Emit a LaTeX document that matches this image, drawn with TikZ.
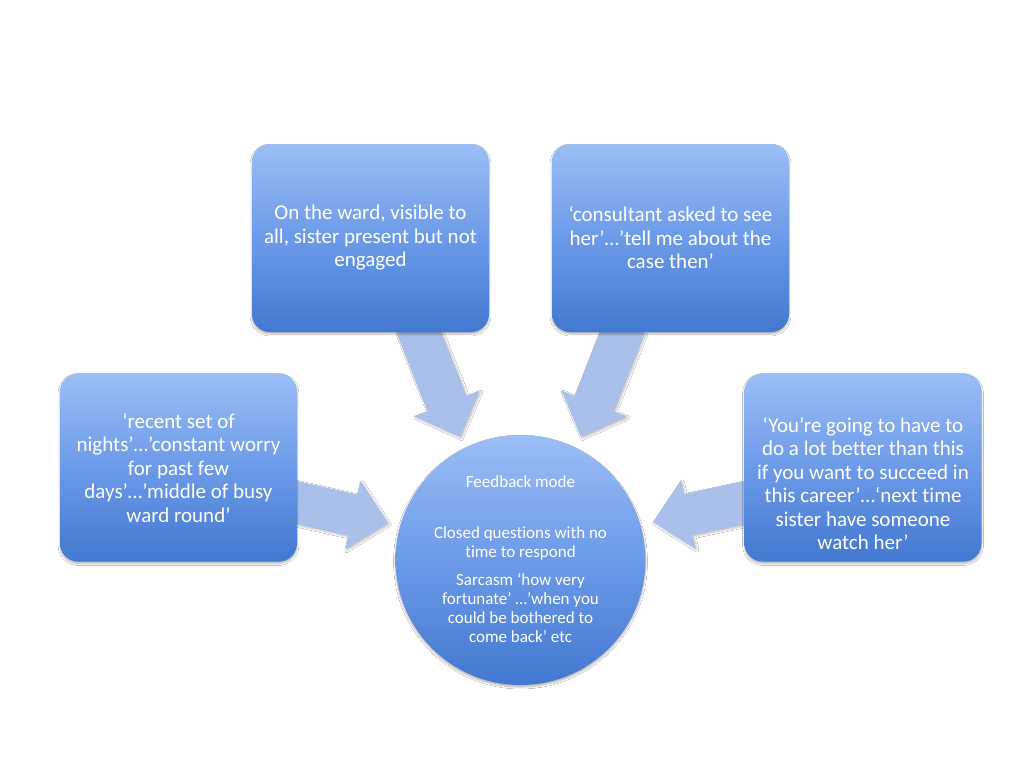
\documentclass[tikz,border=0pt]{standalone}
\usepackage{fontspec}
\setmainfont{Carlito}[Ligatures=NoCommon]
\usetikzlibrary{calc,shadows.blur}
\definecolor{boxtop}{RGB}{155,190,245}
\definecolor{boxmid}{RGB}{108,154,232}
\definecolor{boxbot}{RGB}{66,120,208}
\definecolor{arrfill}{RGB}{170,192,234}
\tikzset{
  gbox/.style={rounded corners=18pt, minimum width=237pt, minimum height=188pt,
    top color=boxtop, bottom color=boxbot, middle color=boxmid, draw=none,
    blur shadow={shadow xshift=0pt, shadow yshift=-2pt, shadow opacity=30, shadow blur steps=6}},
  btext/.style={text=white, align=center, font=\fontsize{21}{23.5}\selectfont},
  ctext/.style={text=white, align=center, font=\fontsize{17}{19}\selectfont},
  gcirc/.style={circle, minimum size=250pt, top color=boxtop, bottom color=boxbot, middle color=boxmid, draw=none,
    blur shadow={shadow xshift=0pt, shadow yshift=-2pt, shadow opacity=30, shadow blur steps=6}},
  barrow/.style={fill=arrfill, draw=none,
    blur shadow={shadow xshift=1.5pt, shadow yshift=-1.5pt, shadow opacity=25, shadow blur steps=5}}
}
\newcommand\blockarr[2]{%
  \coordinate (hb#1#2) at ($(#2)!36pt!(#1)$);
  \fill[barrow] ($(#1)!21pt!90:(#2)$) -- ($(hb#1#2)!21pt!90:(#2)$) -- ($(hb#1#2)!35pt!90:(#2)$)
    -- (#2) -- ($(hb#1#2)!35pt!-90:(#2)$) -- ($(hb#1#2)!21pt!-90:(#2)$) -- ($(#1)!21pt!-90:(#2)$) -- cycle;
}
\begin{document}
\begin{tikzpicture}[x=1pt,y=-1pt]
\useasboundingbox (0,0) rectangle (1024,768);
\fill[white] (0,0) rectangle (1024,768);
% arrow ends
\coordinate (t1) at (416,325);
\coordinate (p1) at (460,437);
\coordinate (t2) at (625,325);
\coordinate (p2) at (581,437);
\coordinate (t3) at (290,501);
\coordinate (p3) at (388,523);
\coordinate (t4) at (752,501);
\coordinate (p4) at (653,522);
\blockarr{t1}{p1}
\blockarr{t2}{p2}
\blockarr{t3}{p3}
\blockarr{t4}{p4}
% boxes
\node[gbox] (tl) at (370.5,238) {};
\node[btext] at (370.5,238) {On the ward, visible to\\all, sister present but not\\engaged};
\node[gbox] (tr) at (670.5,238) {};
\node[btext] at (670.5,238) {‘consultant asked to see\\her’…’tell me about the\\case then’};
\node[gbox] (lb) at (178.5,467.5) {};
\node[btext] at (178.5,467.5) {‘recent set of\\nights’…’constant worry\\for past few\\days’…’middle of busy\\ward round’};
\node[gbox] (rb) at (863,467.5) {};
\node[btext] at (863,483.5) {‘You’re going to have to\\do a lot better than this\\if you want to succeed in\\this career’…‘next time\\sister have someone\\watch her’};
% circle
\node[gcirc] (c) at (520.5,560) {};
\node[ctext] (fm) at (520.5,482) {Feedback mode};
\node[ctext] (cq) at (520.5,543.5) {Closed questions with no\\time to respond};
\node[ctext] (sc) at (520.5,607.5) {Sarcasm ‘how very\\fortunate’ …’when you\\could be bothered to\\come back’ etc};
\end{tikzpicture}
\end{document}
